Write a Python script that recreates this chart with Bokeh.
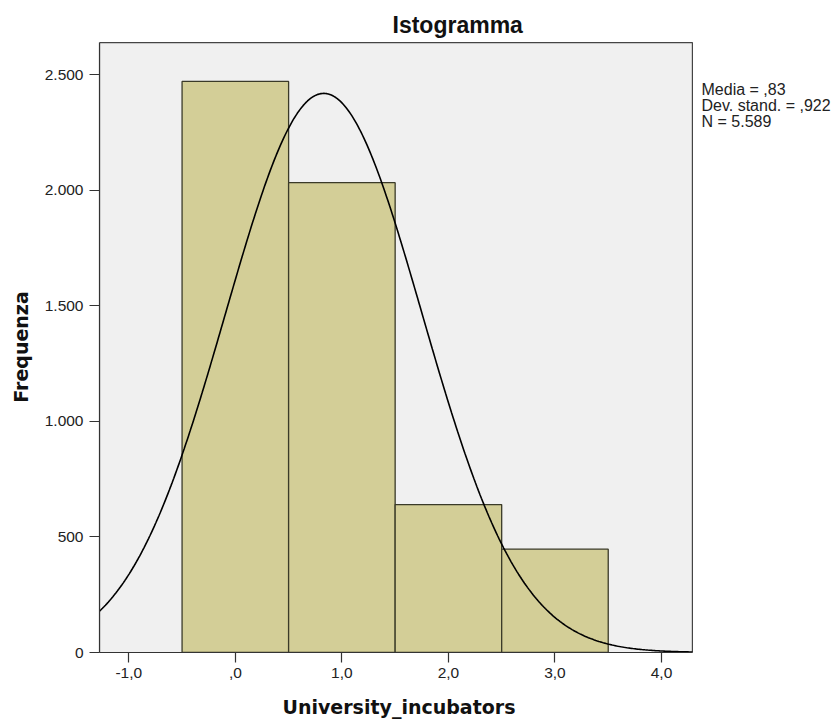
import numpy as np
from bokeh.plotting import figure
from bokeh.models import Label, FixedTicker, Range1d, Title
from bokeh.embed import file_html
from bokeh.resources import INLINE

# ---- data ----
bin_left = [-0.5, 0.5, 1.5, 2.5]
bin_right = [0.5, 1.5, 2.5, 3.5]
counts = [2470, 2032, 640, 447]
mean = 0.83
std_dev = 0.922
n_total = 5589
bin_width = 1.0
x_ticks = [-1, 0, 1, 2, 3, 4]
x_tick_labels = ["-1,0", ",0", "1,0", "2,0", "3,0", "4,0"]
y_ticks = [0, 500, 1000, 1500, 2000, 2500]
y_tick_labels = ["0", "500", "1.000", "1.500", "2.000", "2.500"]
stats_lines = ["Media = ,83", "Dev. stand. = ,922", "N = 5.589"]
title_text = "Istogramma"
x_label = "University_incubators"
y_label = "Frequenza"

# plotting-area extent (data units) of the grey box
box_x = (-1.275, 4.29)
box_y = (0, 2638)
x_end = -1.275 + 736 / 106.54   # frame extends right to hold the statistics text
y_end = 611 / 0.2312

p = figure(
    frame_width=736, frame_height=611,
    min_border_left=99, min_border_right=0,
    min_border_top=41, min_border_bottom=69,
    x_range=Range1d(box_x[0], x_end), y_range=Range1d(box_y[0], y_end),
    output_backend="svg", toolbar_location=None,
    background_fill_color="white", border_fill_color="white",
)
p.outline_line_color = None
p.grid.visible = False

p.quad(left=[box_x[0]], right=[box_x[1]], bottom=[box_y[0]], top=[box_y[1]],
       fill_color="#F0F0F0", line_color="#444444", line_width=1.2)

p.quad(left=bin_left, right=bin_right, bottom=0, top=counts,
       fill_color="#D3CE97", line_color="#3A3A28", line_width=1.3)

xs = np.linspace(box_x[0], box_x[1], 400)
ys = n_total * bin_width / (std_dev * np.sqrt(2 * np.pi)) * np.exp(-0.5 * ((xs - mean) / std_dev) ** 2)
p.line(xs, ys, line_color="black", line_width=1.6)

tick_font = "Liberation Sans"
for ax in (p.xaxis[0], p.yaxis[0]):
    ax.axis_line_color = "#333333"
    ax.axis_line_width = 1.2
    ax.major_tick_line_color = "#333333"
    ax.major_tick_line_width = 1.2
    ax.major_tick_out = 10
    ax.major_tick_in = 0
    ax.minor_tick_line_color = None
    ax.major_label_text_font = tick_font
    ax.major_label_text_font_size = "15.5px"
    ax.major_label_text_color = "#222222"
    ax.axis_label_text_font = "DejaVu Sans"
    ax.axis_label_text_font_style = "bold"
    ax.axis_label_text_font_size = "19px"
    ax.axis_label_text_color = "#111111"

p.xaxis[0].bounds = box_x
p.yaxis[0].bounds = box_y
p.xaxis[0].major_label_standoff = 5
p.yaxis[0].major_label_standoff = 6
p.xaxis[0].ticker = FixedTicker(ticks=x_ticks)
p.xaxis[0].major_label_overrides = {t: l for t, l in zip(x_ticks, x_tick_labels)}
p.yaxis[0].ticker = FixedTicker(ticks=y_ticks)
p.yaxis[0].major_label_overrides = {t: l for t, l in zip(y_ticks, y_tick_labels)}
p.yaxis[0].axis_label = y_label
p.yaxis[0].axis_label_standoff = 10

p.add_layout(Title(text=title_text, align="left", offset=293, standoff=7,
                   text_font="Liberation Sans", text_font_style="bold",
                   text_font_size="23px", text_color="#111111"), "above")
p.add_layout(Title(text=x_label, align="left", offset=183, standoff=26,
                   text_font="DejaVu Sans", text_font_style="bold",
                   text_font_size="19px", text_color="#111111"), "below")

for i, line in enumerate(stats_lines):
    p.add_layout(Label(x=602, y=562.7 - 15.7 * i, x_units="screen", y_units="screen",
                       text=line, text_font="Liberation Sans", text_font_size="16px",
                       text_color="#222222", text_baseline="alphabetic", text_align="left"))

open("out.html", "w").write(file_html(p, INLINE))
